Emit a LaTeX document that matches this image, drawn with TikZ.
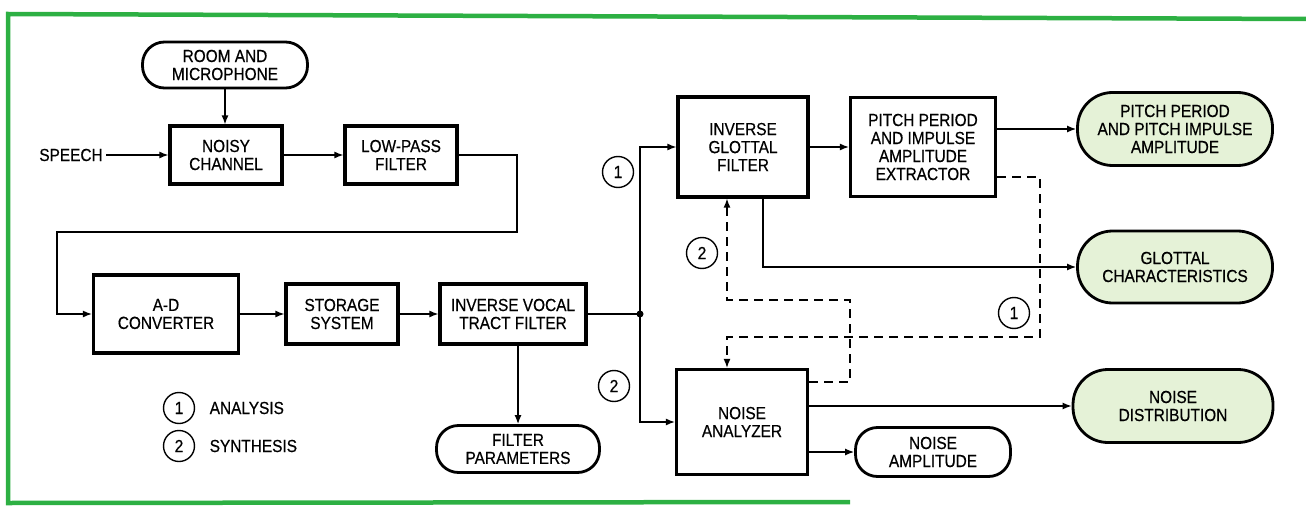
\documentclass[tikz,border=0pt]{standalone}
\usepackage{fontspec}
\setmainfont{Liberation Sans}[FakeStretch=0.88,FakeBold=0.5]
\usepackage{xcolor}
\usepackage{tikz}
\usetikzlibrary{arrows.meta,positioning}
\definecolor{Frame}{HTML}{2DB043}
\definecolor{OutFill}{HTML}{E5F2D7}

\begin{document}
\begin{tikzpicture}[x=1pt,y=-1pt,font=\fontsize{17.5}{18}\selectfont,>={Latex[length=9pt,width=7pt]},
  blk/.style={draw,line width=3.2pt,align=center,inner sep=2pt},
  term/.style={draw,line width=2.8pt,rounded corners=22pt,align=center,inner sep=2pt},
  outp/.style={term,rounded corners=35pt,fill=OutFill},
  num/.style={draw,circle,line width=1.4pt,minimum size=31pt,inner sep=0pt},
  link/.style={line width=1.4pt},
  back/.style={link,dash pattern=on 9pt off 6pt}]
  \useasboundingbox (0,0) rectangle (1306,508);
  \draw[Frame,line width=4.5pt] (1306,19) -- (8,14) -- (8,503) -- (850,502);
  \node[term,minimum width=165pt,minimum height=46pt] (ram) at (225,65) {ROOM AND\\MICROPHONE};
  \node (spch) at (71,155) {SPEECH};
  \node[blk,minimum width=112pt,minimum height=58pt] (nch) at (226,155) {NOISY\\CHANNEL};
  \node[blk,minimum width=112pt,minimum height=58pt] (lpf) at (401,155) {LOW-PASS\\FILTER};
  \node[blk,minimum width=145pt,minimum height=78pt] (adc) at (166,314) {A-D\\CONVERTER};
  \node[blk,minimum width=112pt,minimum height=60pt] (sto) at (342,314) {STORAGE\\SYSTEM};
  \node[blk,minimum width=146pt,minimum height=60pt] (ivt) at (513,314) {INVERSE VOCAL\\TRACT FILTER};
  \node[term,minimum width=163pt,minimum height=47pt] (fp) at (518,449) {FILTER\\PARAMETERS};
  \coordinate (j) at (640,314);
  \node[blk,minimum width=130pt,minimum height=100pt] (igf) at (743,147) {INVERSE\\GLOTTAL\\FILTER};
  \node[blk,minimum width=145pt,minimum height=99pt] (ppe) at (923,147) {PITCH PERIOD\\AND IMPULSE\\AMPLITUDE\\EXTRACTOR};
  \node[outp,minimum width=195pt,minimum height=73pt] (ppa) at (1175,129) {PITCH PERIOD\\AND PITCH IMPULSE\\AMPLITUDE};
  \node[outp,minimum width=195pt,minimum height=72pt] (gc) at (1175,267) {GLOTTAL\\CHARACTERISTICS};
  \node[blk,minimum width=131pt,minimum height=105pt] (na) at (742,422) {NOISE\\ANALYZER};
  \node[outp,minimum width=200pt,minimum height=73pt] (nd) at (1173,406) {NOISE\\DISTRIBUTION};
  \node[term,minimum width=155pt,minimum height=49pt] (nam) at (933,452) {NOISE\\AMPLITUDE};
  \node[num] (c1a) at (618,172) {1};
  \node[num] (c2a) at (614,386) {2};
  \node[num] (c2b) at (702,253) {2};
  \node[num] (c1b) at (1014,313) {1};
  \node[num] (l1) at (179,408) {1};
  \node[num] (l2) at (179,446) {2};
  \node[right=11pt of l1] (la) {ANALYSIS};
  \node[right=11pt of l2] (ls) {SYNTHESIS};
  \coordinate (b1) at (517,232);
  \coordinate (b2) at (57,232);
  \coordinate (d1) at (1040,337);
  \coordinate (d2) at (850,300);
  \draw[link,->] (spch) -- (nch);
  \draw[link,->] (ram.south) -- (ram.south |- nch.north);
  \draw[link,->] (nch) -- (lpf);
  \draw[link,->] (lpf) -| (b1) -- (b2) |- (adc);
  \draw[link,->] (adc) -- (sto);
  \draw[link,->] (sto) -- (ivt);
  \draw[link] (ivt) -- (j);
  \fill (j) circle (3.5pt);
  \draw[link,->] (j) |- (igf);
  \draw[link,->] (j) |- (na);
  \draw[link,->] (ivt.south -| fp.north) -- (fp.north);
  \draw[link,->] (igf) -- (ppe);
  \draw[link,->] (ppe.east |- ppa) -- (ppa);
  \draw[link,->] ([xshift=20pt]igf.south) |- (gc);
  \draw[link,->] (na.east |- nd) -- (nd);
  \draw[link,->] (na.east |- nam) -- (nam);
  \draw[back,->] ([yshift=-30pt]ppe.east) -| (d1) -| ([xshift=-15pt]na.north);
  \draw[back,->] ([yshift=40pt]na.east) -| (d2) -| ([xshift=-16pt]igf.south);
\end{tikzpicture}
\end{document}
